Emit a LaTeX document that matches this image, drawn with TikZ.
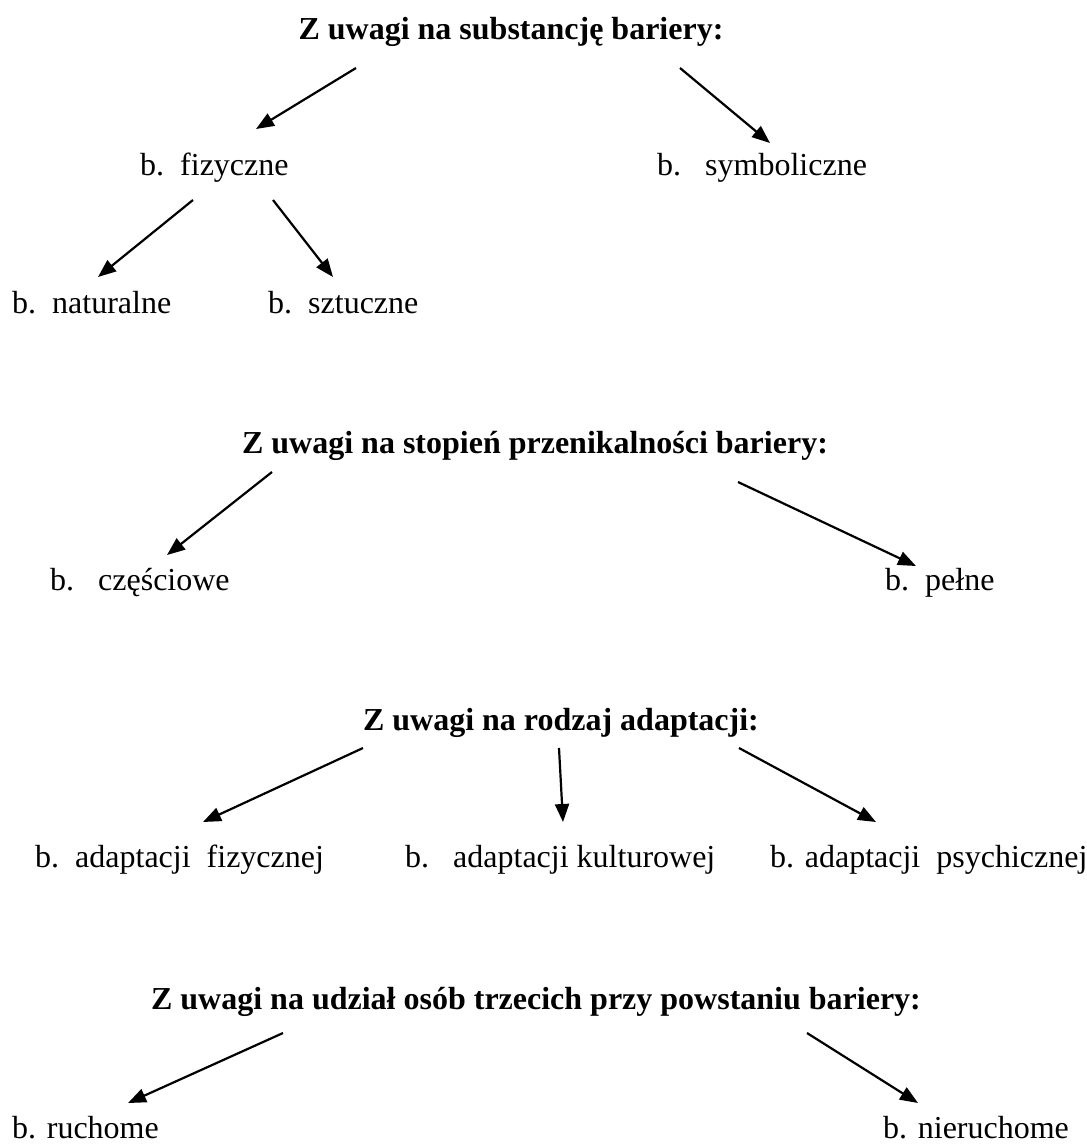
\documentclass[tikz,border=0pt]{standalone}
\usepackage{fontspec}
\setmainfont{Liberation Serif}
\usetikzlibrary{arrows.meta}
\tikzset{
  title/.style={inner sep=0pt, anchor=base, font=\fontsize{32pt}{38pt}\selectfont\bfseries},
  lbl/.style={inner sep=0pt, anchor=base west, font=\fontsize{32pt}{38pt}\selectfont},
  arr/.style={line width=2.2pt, -{Triangle[length=18pt,width=14pt]}}
}
\begin{document}
\begin{tikzpicture}[x=1pt,y=-1pt]
\useasboundingbox[fill=white] (0,0) rectangle (1087,1144);
% section 1
\node[title] (t1) at (511,39) {Z uwagi na substancję bariery:};
\node[lbl] (fiz) at (140,175) {b.\ \ fizyczne};
\node[lbl] (sym) at (657,175) {b.\ \ \ symboliczne};
\node[lbl] (nat) at (12,313) {b.\ \ naturalne};
\node[lbl] (szt) at (268,313) {b.\ \ sztuczne};
\coordinate (a1s) at (356,68);  \coordinate (a1e) at (256,129);
\coordinate (a2s) at (680,68);  \coordinate (a2e) at (770,143);
\coordinate (a3s) at (193,200); \coordinate (a3e) at (98,277);
\coordinate (a4s) at (273,200); \coordinate (a4e) at (333,277);
\draw[arr] (a1s) -- (a1e);
\draw[arr] (a2s) -- (a2e);
\draw[arr] (a3s) -- (a3e);
\draw[arr] (a4s) -- (a4e);
% section 2
\node[title] (t2) at (535,453) {Z uwagi na stopień przenikalności bariery:};
\node[lbl] (czes) at (50,590) {b.\ \ \ częściowe};
\node[lbl] (peln) at (885,590) {b.\ \ pełne};
\coordinate (a5s) at (272,472); \coordinate (a5e) at (167,555);
\coordinate (a6s) at (738,482); \coordinate (a6e) at (916,566);
\draw[arr] (a5s) -- (a5e);
\draw[arr] (a6s) -- (a6e);
% section 3
\node[title] (t3) at (561,730) {Z uwagi na rodzaj adaptacji:};
\node[lbl] (afiz) at (35,867) {b.\ \ adaptacji\ \ fizycznej};
\node[lbl] (akul) at (405,867) {b.\ \ \ adaptacji kulturowej};
\node[lbl] (apsy) at (770,867) {b. adaptacji\ \ psychicznej};
\coordinate (a7s) at (363,748); \coordinate (a7e) at (203,822);
\coordinate (a8s) at (559,748); \coordinate (a8e) at (563,822);
\coordinate (a9s) at (739,748); \coordinate (a9e) at (876,822);
\draw[arr] (a7s) -- (a7e);
\draw[arr] (a8s) -- (a8e);
\draw[arr] (a9s) -- (a9e);
% section 4
\node[title] (t4) at (536,1009) {Z uwagi na udział osób trzecich przy powstaniu bariery:};
\node[lbl] (ruch) at (12,1138) {b. ruchome};
\node[lbl] (nier) at (883,1138) {b. nieruchome};
\coordinate (a10s) at (283,1033); \coordinate (a10e) at (128,1103);
\coordinate (a11s) at (807,1033); \coordinate (a11e) at (918,1103);
\draw[arr] (a10s) -- (a10e);
\draw[arr] (a11s) -- (a11e);
\end{tikzpicture}
\end{document}
